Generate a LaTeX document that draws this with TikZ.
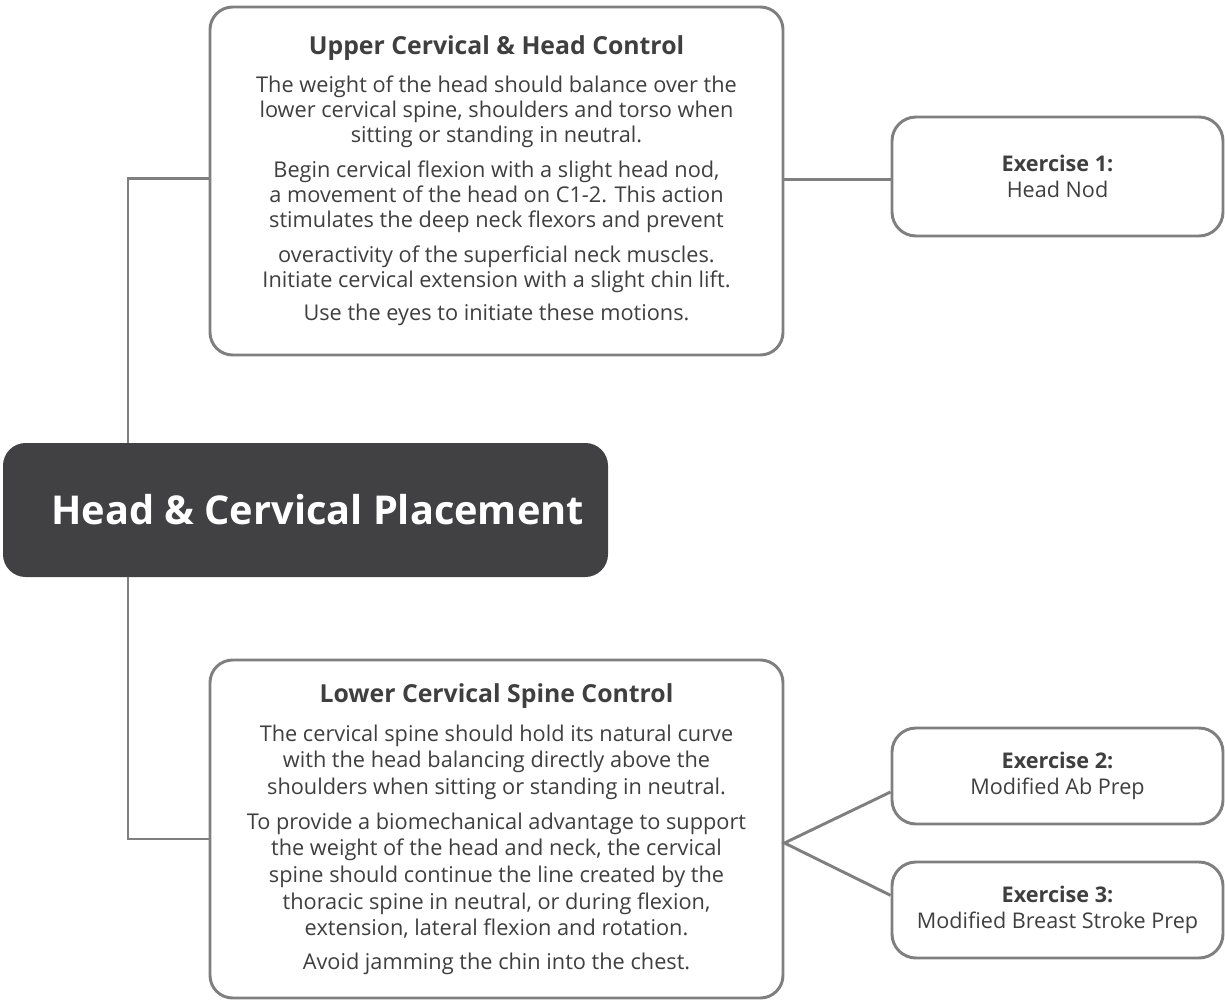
\documentclass[tikz,border=0pt]{standalone}
\usepackage{fontspec}
\setmainfont{Open Sans}
\usetikzlibrary{positioning, calc}
\definecolor{mapDark}{HTML}{414143}
\definecolor{mapLine}{HTML}{7F7F7F}
\definecolor{mapText}{HTML}{3F3F3F}
\tikzset{
  lineG/.style={color=mapLine, line width=2.2pt},
  boxTopic/.style={rectangle, rounded corners=17pt, draw=mapLine, line width=2.2pt,
                   fill=white, text=mapText, align=center, inner sep=0pt,
                   minimum width=429.75pt},
  boxEx/.style={rectangle, rounded corners=18pt, draw=mapLine, line width=2.2pt,
                fill=white, text=mapText, align=center, inner sep=0pt,
                minimum width=248.25pt, font=\fontsize{16.2}{20}\selectfont},
  boxHub/.style={rectangle, rounded corners=17pt, fill=mapDark, text=white,
                 align=center, inner sep=0pt, minimum width=453.75pt,
                 minimum height=100.5pt, font=\bfseries\fontsize{29.8}{34}\selectfont},
}
\newcommand{\topichead}[1]{{\bfseries\fontsize{18.6}{22}\selectfont #1}}

\begin{document}
\begin{tikzpicture}[x=0.75pt, y=-0.75pt]
        \useasboundingbox (0,0) rectangle (1225,1002);
        % Tema central
        \node[boxHub] at (305.5,510) (hub) {\hspace*{18pt}Head \& Cervical Placement};
        % Cajas de control
        \node[boxTopic, minimum height=261pt, font=\fontsize{16.3}{18.75}\selectfont]
          at (496.5,181) (upper) {%
          \topichead{Upper Cervical \& Head Control}\\[10pt]
          The weight of the head should balance over the\\
          lower cervical spine, shoulders and torso when\\
          sitting or standing in neutral.\\[7pt]
          Begin cervical flexion with a slight head nod,\\
          a movement of the head on C1-2. This action\\
          stimulates the deep neck flexors and prevent\\[8pt]
          overactivity of the superficial neck muscles.\\
          Initiate cervical extension with a slight chin lift.\\[6pt]
          Use the eyes to initiate these motions.};
        \node[boxTopic, minimum height=253.5pt, font=\fontsize{16.3}{20}\selectfont]
          at (496.5,829) (lower) {%
          \topichead{Lower Cervical Spine Control}\\[9pt]
          The cervical spine should hold its natural curve\\
          with the head balancing directly above the\\
          shoulders when sitting or standing in neutral.\\[6pt]
          To provide a biomechanical advantage to support\\
          the weight of the head and neck, the cervical\\
          spine should continue the line created by the\\
          thoracic spine in neutral, or during flexion,\\
          extension, lateral flexion and rotation.\\[5pt]
          Avoid jamming the chin into the chest.};
        % Ejercicios
        \node[boxEx, minimum height=89.25pt] at (1057.5,176.5) (ex1)
          {\textbf{Exercise 1:}\\Head Nod};
        \node[boxEx, minimum height=72pt] at (1057.5,776) (ex2)
          {\textbf{Exercise 2:}\\Modified Ab Prep};
        \node[boxEx, minimum height=72pt] at (1057.5,910) (ex3)
          {\textbf{Exercise 3:}\\Modified Breast Stroke Prep};
        % Conectores
        \coordinate (trunk) at (128,510);
        \coordinate (fork) at ([yshift=-10.5pt]lower.east);
        \draw[lineG] ([yshift=2pt]upper.west) -| (hub.north -| trunk);
        \draw[lineG] (hub.south -| trunk) |- ([yshift=-7.5pt]lower.west);
        \draw[lineG] ([yshift=-2.5pt]ex1.west) -- ([yshift=-2.5pt]ex1.west -| upper.east);
        \draw[lineG] ([yshift=-12pt]ex2.west) -- (fork) -- ([yshift=11pt]ex3.west);
      \end{tikzpicture}
\end{document}
